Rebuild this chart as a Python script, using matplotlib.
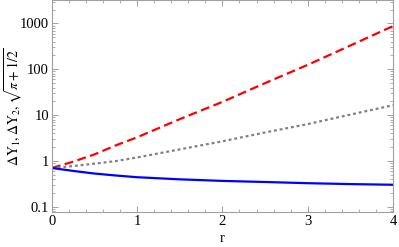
import numpy as np
import matplotlib.pyplot as plt
from matplotlib.ticker import FixedLocator, LogLocator, NullFormatter

plt.rcParams['font.family'] = ['Liberation Serif', 'DejaVu Serif']
plt.rcParams['mathtext.fontset'] = 'stix'

# values
r = [0, 0.25, 0.5, 0.75, 1.0, 1.5, 2.0, 2.5, 3.0, 3.5, 4.0]
dY1 = [0.707, 0.61, 0.535, 0.485, 0.445, 0.40, 0.37, 0.35, 0.33, 0.315, 0.305]
dY2 = [0.707, 0.97, 1.4, 2.2, 3.3, 8.2, 19.5, 50, 125, 330, 875]
nbar = [0.707, 0.78, 0.88, 1.0, 1.2, 1.8, 2.7, 4.2, 6.4, 10.3, 16.5]

yticks = [0.1, 1, 10, 100, 1000]
ylabels = ['0.1', '1', '10', '100', '1000']

fig = plt.figure(figsize=(3.99, 2.47), dpi=100)
ax = fig.add_axes([0.130, 0.142, 0.855, 0.856])

ax.plot(r, dY2, color='#ff0000', linewidth=1.6, dashes=(4, 2))
ax.plot(r, nbar, color='#808080', linewidth=1.6, dashes=(1.3, 1.3))
ax.plot(r, dY1, color='#0000ff', linewidth=1.6)

ax.set_yscale('log')
ax.set_xlim(0, 4)
ax.set_ylim(0.078, 3160)

ax.xaxis.set_major_locator(FixedLocator([0, 1, 2, 3, 4]))
ax.xaxis.set_minor_locator(FixedLocator(np.arange(0, 4.01, 0.2)))
ax.yaxis.set_major_locator(FixedLocator(yticks))
ax.set_yticklabels(ylabels)
ax.yaxis.set_minor_locator(LogLocator(base=10, subs=np.arange(2, 10)))
ax.yaxis.set_minor_formatter(NullFormatter())

for s in ax.spines.values():
    s.set_color('#a0a0a0')
    s.set_linewidth(0.8)
ax.tick_params(which='both', direction='in', top=True, right=True,
               color='#a0a0a0', labelsize=10.5, pad=2)
ax.tick_params(which='major', length=4, width=0.7)
ax.tick_params(which='minor', length=2, width=0.6)

ax.set_xlabel('r', fontsize=10.5, labelpad=3)
ax.set_ylabel(r'$\Delta\mathrm{Y}_1, \Delta\mathrm{Y}_2, \sqrt{\pi+1/2}$', fontsize=10)
ax.yaxis.set_label_coords(-0.079, 0.5)

fig.savefig('out.png', dpi=100)
